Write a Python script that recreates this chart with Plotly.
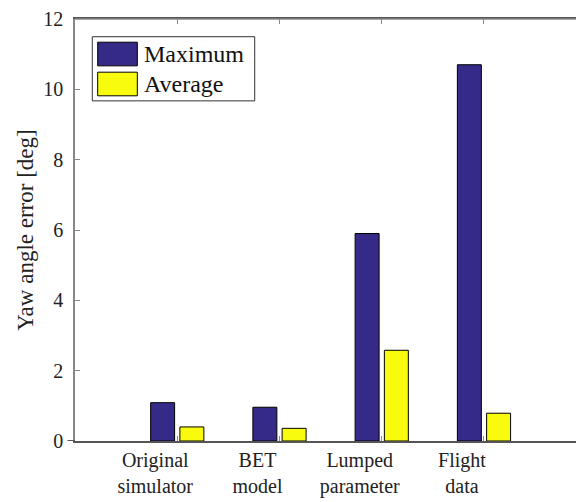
import plotly.graph_objects as go

categories = ["Original<br>simulator", "BET<br>model", "Lumped<br>parameter", "Flight<br>data"]
positions = [1, 2, 3, 4]
series_names = ["Maximum", "Average"]
maximum = [1.09, 0.96, 5.9, 10.7]
average = [0.40, 0.36, 2.58, 0.79]
colors = ["#352A87", "#F9FB0E"]
y_ticks = [0, 2, 4, 6, 8, 10, 12]

FONT = "Liberation Serif, Times New Roman, serif"

fig = go.Figure()
for name, vals, col in zip(series_names, [maximum, average], colors):
    fig.add_trace(go.Bar(
        x=positions, y=vals, name=name,
        marker=dict(color=col, line=dict(color="black", width=1)),
        showlegend=False,
    ))

# custom legend (MATLAB-style large swatches)
fig.add_shape(type="rect", xref="paper", yref="paper",
              x0=0.0345, x1=0.3587, y0=0.806, y1=0.958,
              line=dict(color="#333333", width=1), fillcolor="white", layer="above")
sw_y = [(0.889, 0.945), (0.818, 0.874)]
txt_y = [0.917, 0.846]
for (y0, y1), ty, name, col in zip(sw_y, txt_y, series_names, colors):
    fig.add_shape(type="rect", xref="paper", yref="paper",
                  x0=0.0453, x1=0.1244, y0=y0, y1=y1,
                  line=dict(color="black", width=1), fillcolor=col, layer="above")
    fig.add_annotation(xref="paper", yref="paper", x=0.1337, y=ty,
                       text=name, showarrow=False, xanchor="left", yanchor="middle",
                       font=dict(family=FONT, size=24, color="#111111"))

fig.update_layout(
    width=576, height=502,
    margin=dict(l=75, r=0, t=19, b=61),
    paper_bgcolor="white", plot_bgcolor="white",
    barmode="group", bargap=0.428, bargroupgap=0.18,
    font=dict(family=FONT, size=20, color="#222222"),
    xaxis=dict(
        range=[0, 4.9], tickmode="array", tickvals=positions, ticktext=categories,
        showline=True, linecolor="#555555", linewidth=2, mirror="ticks",
        ticks="inside", ticklen=5, tickcolor="#888888", tickwidth=1,
        showgrid=False, zeroline=False, ticklabelshift=-22,
        tickfont=dict(family=FONT, size=20, color="#222222"),
    ),
    yaxis=dict(
        range=[0, 12], tickmode="array", tickvals=y_ticks,
        showline=True, linecolor="#888888", linewidth=1.5,
        ticks="inside", ticklen=5, tickcolor="#888888", tickwidth=1,
        showgrid=False, zeroline=False, ticklabelstandoff=6,
        tickfont=dict(family=FONT, size=20, color="#222222"),
        title=dict(text="Yaw angle error [deg]", standoff=3,
                   font=dict(family=FONT, size=23, color="#222222")),
        automargin=False,
    ),
)
# top axis line (mirror) should be grey/thin like reference
fig.add_shape(type="line", xref="paper", yref="paper", x0=0, x1=1, y0=1, y1=1,
              line=dict(color="#888888", width=1.5), layer="above")
# MATLAB bar baseline extends slightly left of the y axis
fig.add_shape(type="line", xref="paper", yref="y", x0=-0.015, x1=0, y0=0, y1=0,
              line=dict(color="#555555", width=2), layer="above")

fig.write_html("out.html")
